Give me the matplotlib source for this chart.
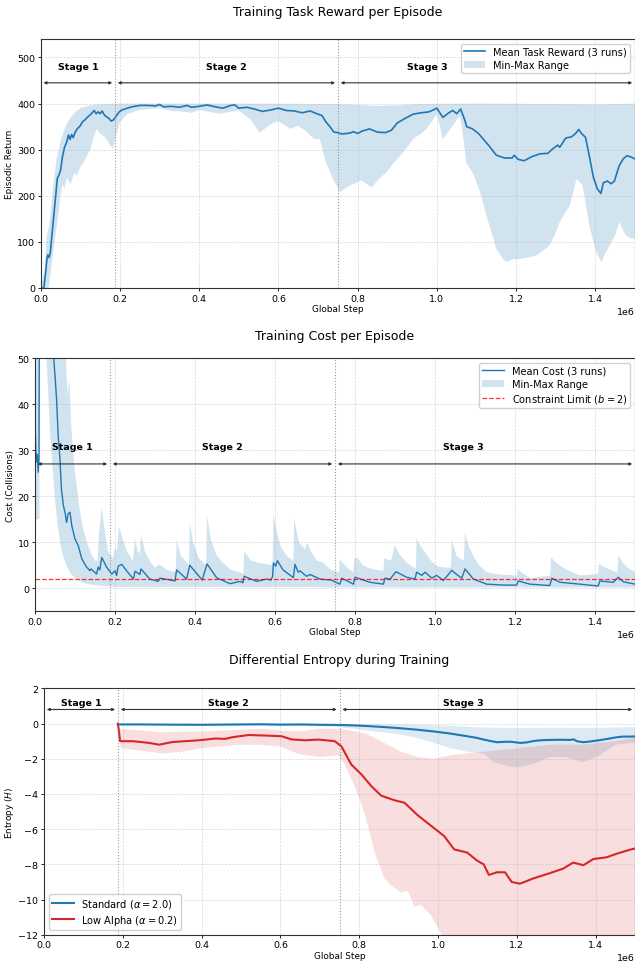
import numpy as np
import matplotlib.pyplot as plt

# x in millions of steps, y
stage_bounds = [0.0, 0.1875, 0.75, 1.5]
stage_names = ["Stage 1", "Stage 2", "Stage 3"]

# --- task reward ---
reward_mean = [(0.0, 0), (0.008, 0), (0.012, 30), (0.016, 65), (0.018, 72), (0.021, 66), (0.024, 75),
               (0.03, 130), (0.036, 185), (0.042, 238), (0.046, 245), (0.05, 255), (0.055, 285),
               (0.06, 305), (0.065, 315), (0.07, 332), (0.074, 322), (0.078, 333), (0.082, 326),
               (0.087, 338), (0.092, 345), (0.1, 352), (0.105, 360), (0.112, 365), (0.12, 372),
               (0.128, 378), (0.135, 385), (0.14, 378), (0.145, 382), (0.15, 378), (0.155, 384),
               (0.16, 376), (0.165, 372), (0.172, 368), (0.178, 362), (0.183, 364), (0.19, 372),
               (0.198, 382), (0.205, 386), (0.215, 389), (0.23, 393), (0.25, 396), (0.27, 396),
               (0.29, 395), (0.3, 398), (0.31, 393), (0.33, 394), (0.35, 392), (0.37, 396),
               (0.38, 392), (0.4, 394), (0.42, 397), (0.44, 393), (0.46, 390), (0.48, 396),
               (0.49, 397), (0.5, 390), (0.52, 392), (0.54, 388), (0.56, 383), (0.58, 386),
               (0.6, 390), (0.62, 385), (0.64, 384), (0.66, 380), (0.68, 384), (0.7, 377),
               (0.71, 374), (0.72, 360), (0.73, 350), (0.74, 338), (0.75, 337), (0.76, 334),
               (0.78, 336), (0.79, 339), (0.8, 335), (0.81, 340), (0.83, 345), (0.85, 338),
               (0.87, 337), (0.885, 342), (0.9, 358), (0.92, 368), (0.94, 377), (0.96, 380),
               (0.98, 382), (1.0, 390), (1.015, 370), (1.03, 380), (1.04, 385), (1.05, 378),
               (1.06, 388), (1.07, 365), (1.075, 350), (1.09, 345), (1.105, 335), (1.115, 325),
               (1.13, 310), (1.15, 288), (1.17, 282), (1.19, 282), (1.195, 288), (1.205, 279),
               (1.22, 276), (1.24, 285), (1.26, 291), (1.28, 292), (1.29, 300), (1.305, 310),
               (1.31, 305), (1.325, 325), (1.34, 328), (1.35, 335), (1.358, 344), (1.365, 335),
               (1.375, 327), (1.385, 285), (1.395, 240), (1.405, 215), (1.414, 205), (1.42, 228),
               (1.43, 232), (1.44, 226), (1.448, 232), (1.46, 265), (1.47, 280), (1.48, 287),
               (1.49, 284), (1.5, 280)]
reward_hi = [(0.0, 0), (0.01, 40), (0.015, 110), (0.02, 130), (0.025, 160), (0.03, 210), (0.04, 280),
             (0.05, 318), (0.06, 345), (0.07, 362), (0.08, 375), (0.09, 384), (0.1, 390),
             (0.12, 395), (0.14, 398), (0.16, 399), (0.2, 400), (0.5, 400), (0.75, 399),
             (0.8, 397), (0.85, 395), (0.9, 396), (0.95, 399), (1.1, 400), (1.3, 399),
             (1.4, 398), (1.5, 400)]
reward_lo = [(0.0, 0), (0.02, 0), (0.025, 30), (0.03, 70), (0.04, 130), (0.05, 200), (0.055, 225),
             (0.06, 215), (0.066, 240), (0.075, 225), (0.085, 250), (0.091, 243), (0.1, 262),
             (0.11, 275), (0.117, 287), (0.125, 300), (0.133, 325), (0.141, 345), (0.15, 335),
             (0.158, 330), (0.166, 323), (0.175, 310), (0.183, 303), (0.19, 330), (0.2, 360),
             (0.22, 378), (0.25, 386), (0.3, 390), (0.33, 384), (0.35, 383), (0.38, 380),
             (0.4, 386), (0.45, 378), (0.5, 385), (0.53, 365), (0.553, 337), (0.58, 355),
             (0.6, 362), (0.63, 345), (0.65, 352), (0.67, 340), (0.69, 323), (0.704, 323),
             (0.72, 273), (0.738, 236), (0.755, 208), (0.78, 222), (0.81, 233), (0.835, 218),
             (0.855, 238), (0.873, 251), (0.89, 270), (0.907, 287), (0.925, 305), (0.94, 323),
             (0.96, 335), (0.974, 345), (0.99, 365), (0.999, 377), (1.008, 350), (1.015, 323),
             (1.03, 340), (1.04, 352), (1.05, 365), (1.058, 373), (1.066, 330), (1.074, 272),
             (1.09, 250), (1.1, 229), (1.112, 200), (1.125, 157), (1.14, 115), (1.15, 85),
             (1.165, 65), (1.175, 56), (1.19, 62), (1.208, 63), (1.23, 66), (1.25, 70),
             (1.27, 82), (1.284, 92), (1.3, 120), (1.31, 143), (1.325, 165), (1.335, 178),
             (1.345, 210), (1.352, 236), (1.36, 230), (1.368, 222), (1.378, 170), (1.385, 135),
             (1.395, 100), (1.402, 78), (1.415, 56), (1.425, 75), (1.436, 92), (1.45, 115),
             (1.461, 143), (1.47, 125), (1.478, 113), (1.49, 108), (1.5, 106)]

# --- cost ---
cost_mean = [(0.0, 37.5), (0.002, 30), (0.004, 27.4), (0.006, 29), (0.008, 25.2), (0.01, 28),
             (0.011, 60), (0.03, 80), (0.046, 51), (0.05, 46.2), (0.054, 41), (0.058, 33),
             (0.0625, 28), (0.066, 21.6), (0.071, 18), (0.075, 16.5), (0.079, 14.3), (0.083, 16.2),
             (0.0875, 16.5), (0.092, 13.6), (0.1, 10.7), (0.108, 9.3), (0.117, 6.4), (0.129, 4.6),
             (0.1375, 3.8), (0.14, 4.2), (0.154, 3.1), (0.158, 4.6), (0.162, 4.0), (0.167, 6.7),
             (0.179, 4.6), (0.192, 3.1), (0.2, 3.8), (0.204, 2.8), (0.208, 4.8), (0.217, 5.2),
             (0.229, 3.8), (0.246, 2.0), (0.25, 3.7), (0.262, 3.0), (0.265, 4.2), (0.287, 2.0),
             (0.308, 1.5), (0.3125, 2.2), (0.35, 1.6), (0.354, 4.0), (0.379, 2.0), (0.387, 5.0),
             (0.418, 1.8), (0.43, 5.3), (0.454, 2.3), (0.4875, 1.0), (0.5125, 1.5), (0.52, 1.2),
             (0.523, 2.6), (0.554, 1.5), (0.579, 2.0), (0.59, 1.8), (0.594, 2.6), (0.596, 5.5),
             (0.602, 4.8), (0.606, 6.0), (0.62, 4.0), (0.646, 2.3), (0.65, 5.2), (0.658, 3.5),
             (0.6625, 3.8), (0.679, 2.6), (0.6875, 3.0), (0.7125, 2.0), (0.74, 1.8), (0.762, 0.9),
             (0.767, 2.2), (0.796, 0.9), (0.8, 2.4), (0.8375, 1.3), (0.871, 0.9), (0.875, 2.2),
             (0.8875, 2.0), (0.9025, 3.6), (0.929, 2.4), (0.95, 2.0), (0.954, 3.5), (0.967, 2.8),
             (0.975, 3.5), (0.992, 2.2), (1.004, 2.8), (1.021, 1.7), (1.042, 3.9), (1.054, 3.0),
             (1.067, 2.2), (1.075, 4.2), (1.096, 2.0), (1.129, 0.9), (1.171, 0.7), (1.204, 0.7),
             (1.208, 1.6), (1.237, 0.9), (1.287, 0.6), (1.292, 2.2), (1.3125, 1.3), (1.362, 0.9),
             (1.408, 0.5), (1.412, 1.6), (1.446, 1.3), (1.458, 2.4), (1.471, 1.4), (1.5, 0.9)]
cost_hi = [(0.0, 60), (0.075, 60), (0.078, 48), (0.082, 42), (0.086, 45.5), (0.09, 36), (0.095, 30),
           (0.1, 25), (0.105, 22), (0.11, 18), (0.12, 13), (0.13, 10), (0.14, 7.5), (0.15, 6),
           (0.157, 6), (0.16, 12), (0.167, 17.6), (0.175, 12), (0.183, 8), (0.19, 7), (0.195, 6.5),
           (0.2, 9), (0.205, 8), (0.21, 13.5), (0.22, 10.5), (0.23, 8), (0.245, 6), (0.25, 10.7),
           (0.257, 8), (0.262, 7.5), (0.265, 11.5), (0.275, 8), (0.29, 5.5), (0.3, 4.5),
           (0.312, 5.2), (0.33, 4), (0.352, 3.5), (0.354, 10.5), (0.365, 7), (0.385, 5),
           (0.387, 14.3), (0.395, 10), (0.41, 6.5), (0.428, 5), (0.43, 15.7), (0.44, 10.5),
           (0.455, 7), (0.47, 5.5), (0.49, 4), (0.51, 3.5), (0.521, 3.2), (0.523, 8), (0.54, 6),
           (0.56, 5.5), (0.594, 5), (0.596, 16.2), (0.605, 12), (0.615, 9), (0.63, 7),
           (0.646, 6), (0.648, 15), (0.66, 10), (0.675, 8.5), (0.68, 10), (0.69, 8), (0.705, 6),
           (0.72, 5.6), (0.74, 4), (0.76, 3.5), (0.762, 6.2), (0.78, 4.5), (0.796, 3.5),
           (0.798, 6.4), (0.805, 6.7), (0.82, 5), (0.84, 4.2), (0.871, 3.8), (0.873, 6.5),
           (0.89, 6), (0.9, 9.4), (0.91, 7.5), (0.93, 5.5), (0.952, 4.2), (0.954, 10.7),
           (0.965, 9), (0.975, 7.8), (0.99, 6), (1.004, 4.9), (1.02, 4.5), (1.04, 4.5),
           (1.042, 10.5), (1.054, 7), (1.072, 6), (1.075, 12.1), (1.085, 9), (1.096, 7),
           (1.11, 5), (1.129, 3.5), (1.16, 3), (1.205, 2.8), (1.207, 4.2), (1.22, 3.2),
           (1.24, 2.2), (1.288, 2.8), (1.29, 6.7), (1.3, 5.8), (1.312, 4.9), (1.33, 4),
           (1.362, 2.8), (1.408, 3.1), (1.41, 5.3), (1.425, 4.5), (1.456, 3.4), (1.458, 7.2),
           (1.47, 5.5), (1.48, 4.6), (1.5, 3.5)]
cost_lo = [(0.0, 15), (0.011, 15), (0.012, 60), (0.025, 60), (0.03, 48), (0.0375, 34), (0.044, 26),
           (0.05, 19.4), (0.056, 14), (0.0625, 10), (0.07, 7), (0.079, 4.9), (0.09, 3),
           (0.104, 2), (0.12, 1.2), (0.1375, 0.8), (0.17, 0.5), (0.2, 0.3), (0.5, 0.3),
           (0.8, 0.2), (1.5, 0.2)]
cost_limit = 2

# --- entropy ---
std_mean = [(0.1875, -0.05), (0.25, -0.05), (0.3, -0.06), (0.4, -0.07), (0.5, -0.05), (0.55, -0.04),
            (0.6, -0.06), (0.65, -0.05), (0.7, -0.07), (0.75, -0.08), (0.78, -0.1), (0.82, -0.14),
            (0.864, -0.2), (0.9, -0.26), (0.948, -0.35), (0.99, -0.45), (1.032, -0.57),
            (1.074, -0.72), (1.1, -0.82), (1.116, -0.91), (1.135, -1.0), (1.15, -1.06),
            (1.165, -1.04), (1.184, -1.03), (1.209, -1.1), (1.225, -1.07), (1.243, -0.99),
            (1.26, -0.95), (1.285, -0.93), (1.31, -0.92), (1.335, -0.93), (1.345, -0.9),
            (1.352, -1.0), (1.369, -1.06), (1.385, -1.02), (1.402, -0.97), (1.43, -0.87),
            (1.453, -0.78), (1.47, -0.74), (1.49, -0.74), (1.5, -0.73)]
std_hi = [(0.1875, 0.0), (0.7, 0.0), (0.75, -0.03), (0.9, -0.05), (1.0, -0.1), (1.05, -0.15),
          (1.1, -0.22), (1.2, -0.26), (1.3, -0.24), (1.4, -0.25), (1.5, -0.2)]
std_lo = [(0.1875, -0.1), (0.7, -0.15), (0.75, -0.2), (0.822, -0.4), (0.906, -0.63), (0.948, -0.82),
          (0.99, -1.1), (1.032, -1.4), (1.074, -1.6), (1.116, -1.7), (1.141, -2.2), (1.175, -2.4),
          (1.2, -2.5), (1.242, -2.3), (1.284, -1.9), (1.326, -1.9), (1.368, -2.2), (1.41, -1.8),
          (1.452, -1.2), (1.49, -1.1), (1.5, -1.1)]
low_mean = [(0.1875, 0.0), (0.19, -0.4), (0.193, -1.0), (0.225, -1.0), (0.267, -1.1), (0.292, -1.2),
            (0.326, -1.05), (0.359, -1.0), (0.393, -0.95), (0.435, -0.85), (0.46, -0.87),
            (0.477, -0.78), (0.519, -0.65), (0.561, -0.68), (0.603, -0.72), (0.628, -0.9),
            (0.662, -0.95), (0.696, -0.91), (0.738, -1.0), (0.755, -1.3), (0.78, -2.33),
            (0.806, -2.9), (0.831, -3.56), (0.856, -4.1), (0.89, -4.36), (0.915, -4.5),
            (0.948, -5.2), (0.982, -5.8), (1.016, -6.4), (1.041, -7.15), (1.074, -7.33),
            (1.1, -7.8), (1.116, -8.0), (1.129, -8.6), (1.15, -8.45), (1.17, -8.45),
            (1.187, -9.0), (1.208, -9.1), (1.242, -8.8), (1.284, -8.5), (1.318, -8.24),
            (1.343, -7.9), (1.369, -8.05), (1.394, -7.7), (1.428, -7.6), (1.453, -7.4),
            (1.49, -7.15), (1.5, -7.1)]
low_hi = [(0.1875, 0.0), (0.192, -0.3), (0.25, -0.4), (0.3, -0.5), (0.4, -0.45), (0.5, -0.35),
          (0.55, -0.3), (0.6, -0.4), (0.65, -0.45), (0.696, -0.3), (0.75, -0.3), (0.78, -0.4),
          (0.82, -0.6), (0.864, -1.1), (0.906, -1.6), (0.948, -1.9), (0.99, -2.0), (1.032, -1.8),
          (1.074, -1.7), (1.116, -1.6), (1.2, -1.4), (1.284, -1.2), (1.368, -1.2), (1.45, -1.0),
          (1.5, -0.8)]
low_lo = [(0.1875, -0.2), (0.195, -1.4), (0.25, -1.55), (0.3, -1.7), (0.35, -1.6), (0.4, -1.4),
          (0.45, -1.3), (0.5, -1.2), (0.55, -1.2), (0.6, -1.3), (0.62, -1.5), (0.65, -1.75),
          (0.7, -1.9), (0.746, -1.8), (0.763, -2.3), (0.789, -3.6), (0.814, -5.1), (0.839, -7.3),
          (0.864, -8.8), (0.881, -9.2), (0.906, -9.6), (0.923, -9.5), (0.94, -10.4),
          (0.957, -10.3), (0.982, -10.9), (1.007, -11.9), (1.016, -12.5), (1.1, -13), (1.5, -13)]

blue = "#1f77b4"
red = "#d62728"


def pts(p):
    a = np.array(p, dtype=float)
    return a[:, 0] * 1e6, a[:, 1]


def band(ax, hi, lo, color, alpha, label=None):
    xh, yh = pts(hi)
    xl, yl = pts(lo)
    return ax.fill(np.concatenate([xh, xl[::-1]]), np.concatenate([yh, yl[::-1]]),
                   color=color, alpha=alpha, lw=0, label=label)[0]


def stages(ax, y_arrow, y_text, label_x):
    for b in stage_bounds[1:-1]:
        ax.axvline(b * 1e6, color="gray", ls=":", lw=0.8, alpha=0.8)
    for i in range(3):
        ax.annotate("", xy=(stage_bounds[i + 1] * 1e6, y_arrow), xytext=(stage_bounds[i] * 1e6, y_arrow),
                    arrowprops=dict(arrowstyle="<|-|>", color="#333333", lw=0.8,
                                    mutation_scale=4, shrinkA=2, shrinkB=2))
        ax.text(label_x[i] * 1e6, y_text, stage_names[i], ha="center", va="center",
                fontsize=6.8, fontweight="bold")


def style(ax):
    ax.grid(True, ls="--", lw=0.5, alpha=0.5)
    ax.tick_params(labelsize=6.8, length=2.5, width=0.6, pad=1.5)
    ax.xaxis.get_offset_text().set_fontsize(6.8)
    for s in ax.spines.values():
        s.set_color("#333333")
    ax.set_xlim(0, 1.5e6)
    ax.set_xlabel("Global Step", fontsize=6.4, labelpad=1)


leg_kw = dict(fontsize=7.1, framealpha=0.9, borderpad=0.3, labelspacing=0.3, handlelength=2.2)

fig = plt.figure(figsize=(6.35, 9.62), dpi=100)

# panel 1
ax1 = fig.add_axes([0.0641, 0.6996, 0.9359, 0.2588])
b1 = band(ax1, reward_hi, reward_lo, blue, 0.2, "Min-Max Range")
x, y = pts(reward_mean)
l1, = ax1.plot(x, y, color=blue, lw=1.2, label="Mean Task Reward (3 runs)")
ax1.set_ylim(0, 540)
style(ax1)
stages(ax1, 445, 480, [0.094, 0.469, 0.977])
ax1.set_ylabel("Episodic Return", fontsize=6.4, labelpad=2)
ax1.set_title("Training Task Reward per Episode", fontsize=9, pad=17)
ax1.legend(handles=[l1, b1], loc="upper right", **leg_kw)

# panel 2
ax2 = fig.add_axes([0.0551, 0.3635, 0.9449, 0.2633])
b2 = band(ax2, cost_hi, cost_lo, blue, 0.2, "Min-Max Range")
x, y = pts(cost_mean)
l2, = ax2.plot(x, y, color=blue, lw=1.0, label="Mean Cost (3 runs)")
lim = ax2.axhline(cost_limit, color="red", ls="--", lw=0.9, alpha=0.8, label="Constraint Limit ($b = 2$)")
ax2.set_ylim(-5, 50)
style(ax2)
stages(ax2, 27, 30.8, [0.094, 0.469, 1.072])
ax2.set_ylabel("Cost (Collisions)", fontsize=6.4, labelpad=2)
ax2.set_title("Training Cost per Episode", fontsize=9, pad=14)
ax2.legend(handles=[l2, b2, lim], loc="upper right", **leg_kw)

# panel 3
ax3 = fig.add_axes([0.0693, 0.0273, 0.9307, 0.2561])
band(ax3, std_hi, std_lo, blue, 0.15)
band(ax3, low_hi, low_lo, red, 0.15)
x, y = pts(std_mean)
ax3.plot(x, y, color=blue, lw=1.5, label="Standard ($\\alpha = 2.0$)")
x, y = pts(low_mean)
ax3.plot(x, y, color=red, lw=1.5, label="Low Alpha ($\\alpha = 0.2$)")
ax3.set_ylim(-12, 2)
ax3.set_yticks(range(-12, 3, 2))
style(ax3)
stages(ax3, 0.8, 1.18, [0.094, 0.469, 1.065])
ax3.set_ylabel("Entropy ($H$)", fontsize=6.4, labelpad=2)
ax3.set_title("Differential Entropy during Training", fontsize=9, pad=18)
ax3.legend(loc="lower left", **leg_kw)

fig.savefig("out.png", dpi=100)
